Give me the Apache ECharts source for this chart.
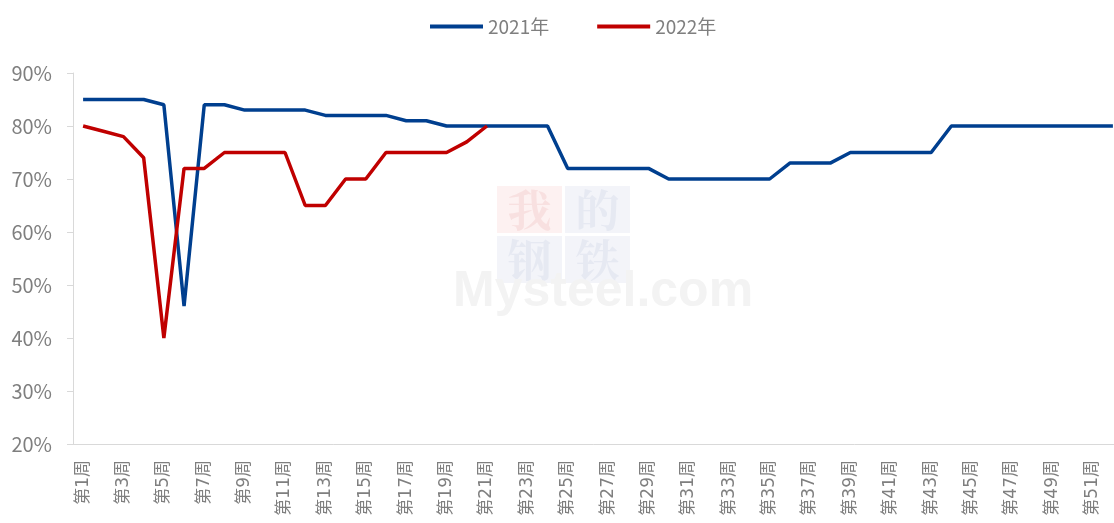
<!DOCTYPE html>
<html>
<head>
<meta charset="utf-8">
<script src="https://cdn.jsdelivr.net/npm/echarts@6/dist/echarts.min.js"></script>
<style>
  html, body { margin: 0; padding: 0; background: #fff; }
  #chart { width: 1114px; height: 523px; }
</style>
</head>
<body>
<div id="chart"></div>
<script>
// 周次
var weeks = [];
for (var w = 1; w <= 52; w++) {
	weeks.push('第' + w + '周');
}

// 2021年
var data2021 = [85, 85, 85, 85, 84, 46, 84, 84, 83, 83,
	83, 83, 82, 82, 82, 82, 81, 81, 80, 80,
	80, 80, 80, 80, 72, 72, 72, 72, 72, 70,
	70, 70, 70, 70, 70, 73, 73, 73, 75, 75,
	75, 75, 75, 80, 80, 80, 80, 80, 80, 80,
	80, 80];

// 2022年
var data2022 = [80, 79, 78, 74, 40, 72, 72, 75, 75, 75,
	75, 65, 65, 70, 70, 75, 75, 75, 75, 77,
	80];

var yTicks = { min: 20, max: 90, step: 10 };

var grey = '#7f7f7f',
	axisGrey = '#d9d9d9',
	font = '"Noto Sans CJK SC", "Noto Sans", sans-serif',
	tickFont = '"DejaVu Sans", "Noto Sans CJK SC", sans-serif';

// 水印：四个方块字 + Mysteel.com
function watermark() {
	var cells = [
		{ ch: '我', x: 497, y: 186, bg: '#fdf1f1', fg: '#f8e0e0' },
		{ ch: '的', x: 565, y: 186, bg: '#f3f4f9', fg: '#e6e9f2' },
		{ ch: '钢', x: 497, y: 236, bg: '#f3f4f9', fg: '#e6e9f2' },
		{ ch: '铁', x: 565, y: 236, bg: '#f3f4f9', fg: '#e6e9f2' }
	];
	var els = [];
	cells.forEach(function(c) {
		els.push({
			type: 'rect', z: -10, silent: true,
			shape: { x: c.x, y: c.y, width: 65, height: 47 },
			style: { fill: c.bg }
		});
		els.push({
			type: 'text', z: -9, silent: true,
			x: c.x + 32.5, y: c.y + 24,
			style: {
				text: c.ch, fill: c.fg, fontSize: 44,
				fontFamily: '"Noto Serif CJK SC", "Noto Sans CJK SC", serif',
				fontWeight: 'bold', align: 'center', verticalAlign: 'middle'
			}
		});
	});
	els.push({
		type: 'text', z: -9, silent: true,
		x: 453, y: 267,
		style: {
			text: 'Mysteel.com', fill: '#f3f3f3', fontSize: 50,
			fontFamily: '"Liberation Sans", Arial, sans-serif', fontWeight: 'bold',
			align: 'left', verticalAlign: 'top'
		}
	});
	return els;
}

var chart = echarts.init(document.getElementById('chart'));
chart.setOption({
	animation: false,
	textStyle: { fontFamily: font },
	graphic: watermark(),
	legend: {
		left: 425,
		top: 12,
		itemWidth: 53,
		itemHeight: 4,
		itemGap: 48,
		icon: 'rect',
		textStyle: { color: grey, fontSize: 19, fontFamily: font },
		data: ['2021年', '2022年']
	},
	grid: {
		left: 73,
		width: 1050, // 右侧被裁掉一截
		top: 73,
		bottom: 79,
		containLabel: false,
		outerBoundsMode: 'none'
	},
	xAxis: {
		type: 'category',
		boundaryGap: true,
		data: weeks,
		axisLine: { lineStyle: { color: axisGrey, width: 1 } },
		axisTick: { interval: 2, length: 5, lineStyle: { color: axisGrey } },
		axisLabel: {
			interval: 1,
			rotate: 90,
			margin: 16,
			color: grey,
			fontSize: 17,
			fontFamily: tickFont
		}
	},
	yAxis: {
		type: 'value',
		min: yTicks.min,
		max: yTicks.max,
		interval: yTicks.step,
		axisLine: { show: true, lineStyle: { color: axisGrey, width: 1 } },
		axisTick: { show: true, inside: false, length: 6, lineStyle: { color: axisGrey } },
		splitLine: { show: false },
		axisLabel: {
			margin: 21,
			color: grey,
			fontSize: 20,
			fontFamily: font,
			formatter: '{value}%'
		}
	},
	series: [
		{
			name: '2021年',
			type: 'line',
			data: data2021,
			symbol: 'none',
			color: '#003f8f',
			lineStyle: { width: 3.5, color: '#003f8f' }
		},
		{
			name: '2022年',
			type: 'line',
			data: data2022,
			symbol: 'none',
			color: '#c00000',
			lineStyle: { width: 3.5, color: '#c00000' }
		}
	]
});
</script>
</body>
</html>
